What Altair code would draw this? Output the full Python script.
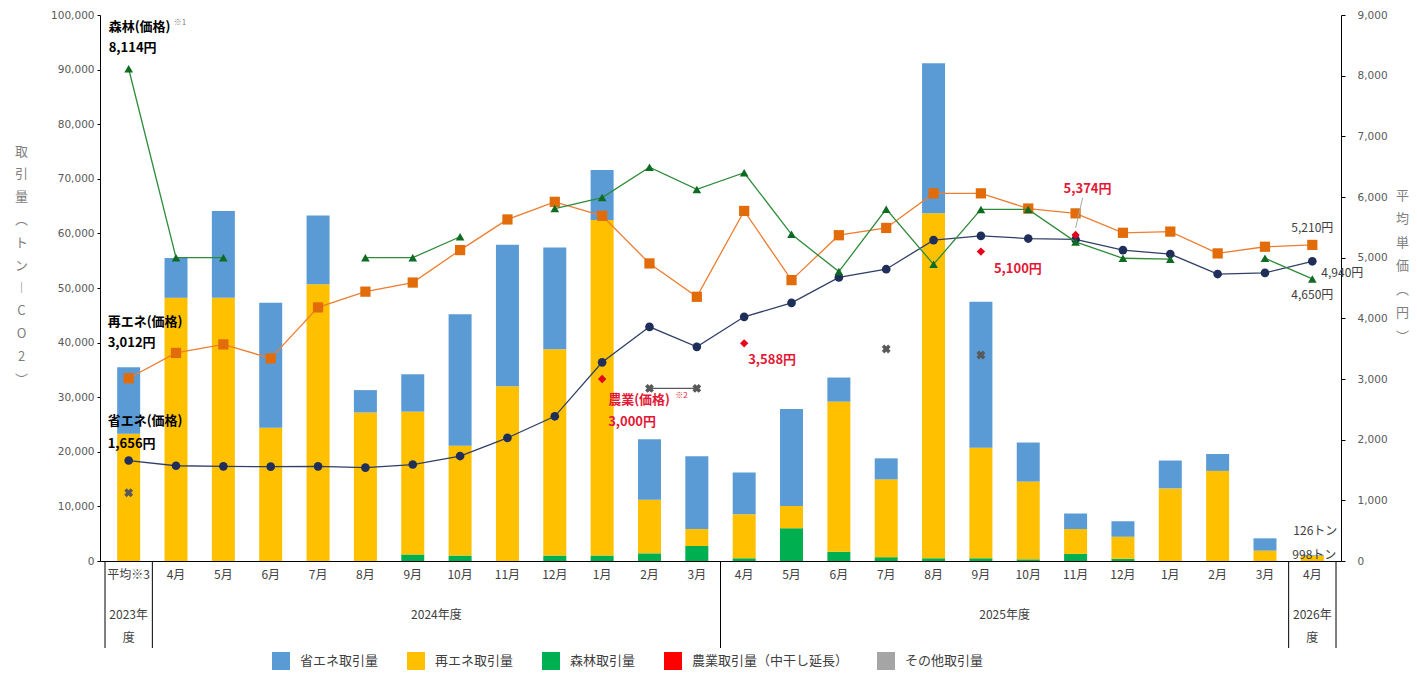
import altair as alt
import pandas as pd

# ---------------- data ----------------
months = ["平均※3", "4月", "5月", "6月", "7月", "8月", "9月", "10月", "11月", "12月", "1月", "2月", "3月",
          "4月", "5月", "6月", "7月", "8月", "9月", "10月", "11月", "12月", "1月", "2月", "3月", "4月"]
fy_line1 = ["2023年", "2024年度", "2025年度", "2026年"]
fy_line2 = ["度", "", "", "度"]
fy_first = [0, 1, 13, 25]
fy_last = [0, 12, 24, 25]

# volumes (t-CO2)
shoene_vol = [12200, 7300, 15900, 22900, 12600, 4100, 6850, 24100, 25900, 18600, 9150, 11100, 13350,
              7650, 17780, 4400, 3850, 27450, 26750, 7150, 2850, 2850, 5100, 3100, 2250, 126]
saiene_vol = [23300, 48200, 48200, 24400, 50700, 27200, 26150, 20100, 32000, 37800, 61450, 9800, 3100,
              8050, 4070, 27500, 14250, 63200, 20250, 14250, 4550, 4050, 13300, 16500, 1900, 998]
shinrin_vol = [0, 0, 0, 0, 0, 0, 1200, 1000, 0, 1000, 1000, 1400, 2750,
               500, 6000, 1700, 700, 500, 500, 300, 1300, 400, 0, 0, 0, 0]

# average prices (yen)
shoene_price = [1656, 1570, 1560, 1555, 1560, 1540, 1590, 1730, 2030, 2385, 3275, 3860, 3530,
                4025, 4255, 4675, 4810, 5290, 5360, 5315, 5300, 5125, 5060, 4730, 4750, 4940]
saiene_price = [3012, 3430, 3570, 3340, 4180, 4440, 4590, 5125, 5630, 5920, 5690, 4905, 4355,
                5770, 4630, 5370, 5490, 6060, 6060, 5810, 5730, 5410, 5430, 5070, 5180, 5210]
shinrin_price = [8114, 5000, 5000, None, None, 5000, 5000, 5345, None, 5810, 5990, 6490, 6125,
                 6400, 5385, 4770, 5800, 4890, 5795, 5795, 5260, 4990, 4975, None, 4990, 4650]
nogyo_price = [None, None, None, None, None, None, None, None, None, None, 3000, None, None,
               3588, None, None, None, None, 5100, None, 5374, None, None, None, None, None]
other_price = [1125, None, None, None, None, None, None, None, None, None, None, 2845, 2845,
               None, None, None, 3495, None, 3395, None, None, None, None, None, None, None]

legend_names = ["省エネ取引量", "再エネ取引量", "森林取引量", "農業取引量（中干し延長）", "その他取引量"]
legend_colors = ["#5B9BD5", "#FFC000", "#00B050", "#FF0000", "#A5A5A5"]

# ---------------- tables ----------------
n = len(months)
idx = list(range(n))
vol_rows = []
for name, vals, order in [("森林取引量", shinrin_vol, 0), ("再エネ取引量", saiene_vol, 1), ("省エネ取引量", shoene_vol, 2)]:
    for i, v in enumerate(vals):
        vol_rows.append({"idx": i, "vol": v, "series": name, "ord": order})
vol_df = pd.DataFrame(vol_rows)


def price_df(vals):
    rows, seg = [], 0
    for i, v in enumerate(vals):
        if v is None:
            seg += 1
            continue
        rows.append({"idx": i, "price": v, "seg": seg})
    return pd.DataFrame(rows)


month_df = pd.DataFrame({"idx": idx, "label": months})
fy_df = pd.DataFrame({"mid": [(a + b) / 2 for a, b in zip(fy_first, fy_last)],
                      "l1": fy_line1, "l2": fy_line2})
sep_df = pd.DataFrame({"pos": [f - 0.5 for f in fy_first] + [fy_last[-1] + 0.5]})

W, H = 1241, 546
JP = "Noto Sans CJK JP"
NUM = "DejaVu Sans"

xscale = alt.Scale(domain=[-0.5, n - 0.5], nice=False, zero=False)
xaxis = alt.Axis(labels=False, ticks=False, grid=False, title=None, domainColor="#000000", domainWidth=1)


def X(field="idx"):
    return alt.X(f"{field}:Q", scale=xscale, axis=xaxis)


# ---------------- volume layer (left axis) ----------------
left_axis = alt.Axis(values=list(range(0, 100001, 10000)), format=",.0f", grid=False,
                     labelFont=NUM, labelFontSize=10.5, labelColor="#595959", tickSize=3,
                     tickColor="#000000", domainColor="#000000", labelPadding=3,
                     title=["取", "引", "量", "︵", "ト", "ン", "︱", "C", "O", "2", "︶"],
                     titleAngle=0, titleX=-79, titleY=130, titleBaseline="top", titleAlign="center",
                     titleLineHeight=22.8, titleFont=JP, titleFontSize=13, titleFontWeight="normal",
                     titleColor="#7F7F7F")
yvol = alt.Scale(domain=[0, 100000], nice=False, zero=True)

bars = alt.Chart(vol_df).mark_bar(size=23).encode(
    x=X(),
    y=alt.Y("vol:Q", stack="zero", scale=yvol, axis=left_axis),
    color=alt.Color("series:N", scale=alt.Scale(domain=legend_names, range=legend_colors),
                    legend=alt.Legend(title=None, orient="none", legendX=172, legendY=637,
                                      direction="horizontal", symbolType="square", symbolSize=324,
                                      symbolStrokeWidth=0, labelFont=JP, labelFontSize=13,
                                      labelColor="#404040", columnPadding=28, labelOffset=10,
                                      padding=0)),
    order=alt.Order("ord:Q"),
)

vol_ann_df = pd.DataFrame({"idx": [n - 1], "vol": [shoene_vol[-1] + saiene_vol[-1]]})
vol_texts = []
for txt, dx, dy in [(f"{shoene_vol[-1]}トン", 3, -24), (f"{saiene_vol[-1]}トン", 2, 0)]:
    vol_texts.append(alt.Chart(vol_ann_df).mark_text(text=txt, dx=dx, dy=dy, font=JP, fontSize=12,
                                                     color="#404040", align="center", baseline="middle")
                     .encode(x=X(), y=alt.Y("vol:Q", scale=yvol, axis=left_axis)))

vol_layer = alt.layer(bars, *vol_texts)

# ---------------- price layer (right axis) ----------------
right_axis = alt.Axis(orient="right", values=list(range(0, 9001, 1000)), format=",.0f", grid=False,
                      labelFont=NUM, labelFontSize=10.5, labelColor="#595959", tickSize=4,
                      tickColor="#000000", domainColor="#000000", labelPadding=12,
                      title=["平", "均", "単", "価", "︵", "円", "︶"],
                      titleAngle=0, titleX=61, titleY=174, titleBaseline="top", titleAlign="center",
                      titleLineHeight=23.5, titleFont=JP, titleFontSize=13, titleFontWeight="normal",
                      titleColor="#7F7F7F")
yprice = alt.Scale(domain=[0, 9000], nice=False, zero=True)


def Yp():
    return alt.Y("price:Q", scale=yprice, axis=right_axis)


price_layers = []
series_specs = [
    (shoene_price, "#2F3F66", "#1F2F5A", "circle", 75, True),
    (saiene_price, "#ED7D31", "#E36C0A", "square", 105, True),
    (shinrin_price, "#2E8B3A", "#0E6B22", "triangle-up", 75, True),
    (nogyo_price, "#FF0000", "#E8001C", "diamond", 70, False),
    (other_price, "#595959", "#595959", "cross", 80, True),
]
for vals, lcol, pcol, shape, size, draw_line in series_specs:
    df = price_df(vals)
    if draw_line:
        price_layers.append(alt.Chart(df).mark_line(color=lcol, strokeWidth=1.3).encode(
            x=X(), y=Yp(), detail="seg:N"))
    angle = 45 if shape == "cross" else 0
    price_layers.append(alt.Chart(df).mark_point(shape=shape, filled=True, size=size, color=pcol,
                                                 opacity=1, angle=angle).encode(x=X(), y=Yp()))

RED = "#E31937"
anns = [
    ("森林(価格)", 0, shinrin_price[0], -20, -42, "#000000", "bold", 13, "left"),
    ("※1", 0, shinrin_price[0], 45, -46, "#7F7F7F", "normal", 8, "left"),
    (f"{shinrin_price[0]:,}円", 0, shinrin_price[0], -20, -21, "#000000", "bold", 13, "left"),
    ("再エネ(価格)", 0, saiene_price[0], -21, -56, "#000000", "bold", 13, "left"),
    (f"{saiene_price[0]:,}円", 0, saiene_price[0], -21, -35, "#000000", "bold", 13, "left"),
    ("省エネ(価格)", 0, shoene_price[0], -21, -40, "#000000", "bold", 13, "left"),
    (f"{shoene_price[0]:,}円", 0, shoene_price[0], -21, -17, "#000000", "bold", 13, "left"),
    ("農業(価格)", 10, nogyo_price[10], 6, 21, RED, "bold", 13, "left"),
    ("※2", 10, nogyo_price[10], 73, 17, RED, "normal", 8, "left"),
    (f"{nogyo_price[10]:,}円", 10, nogyo_price[10], 6, 43, RED, "bold", 13, "left"),
    (f"{nogyo_price[13]:,}円", 13, nogyo_price[13], 4, 17, RED, "bold", 13, "left"),
    (f"{nogyo_price[18]:,}円", 18, nogyo_price[18], 13, 17, RED, "bold", 13, "left"),
    (f"{nogyo_price[20]:,}円", 20, nogyo_price[20], -12, -46, RED, "bold", 13, "left"),
    (f"{saiene_price[-1]:,}円", n - 1, saiene_price[-1], 0, -17, "#404040", "normal", 12, "center"),
    (f"{shoene_price[-1]:,}円", n - 1, shoene_price[-1], 9, 12, "#404040", "normal", 12, "left"),
    (f"{shinrin_price[-1]:,}円", n - 1, shinrin_price[-1], 0, 16, "#404040", "normal", 12, "center"),
]
for txt, i, v, dx, dy, col, wt, fs, al in anns:
    d = pd.DataFrame({"idx": [i], "price": [v]})
    price_layers.append(alt.Chart(d).mark_text(text=txt, dx=dx, dy=dy, color=col, fontWeight=wt,
                                               fontSize=fs, font=JP, align=al, baseline="middle")
                        .encode(x=X(), y=Yp()))

# leader line for the 5,374 label
lead = pd.DataFrame({"idx": [20], "price": [nogyo_price[20]]})
price_layers.append(alt.Chart(lead).mark_rule(color="#A6A6A6", strokeWidth=1, yOffset=-7,
                                              x2Offset=7, y2Offset=-37).encode(
    x=X(), x2="idx:Q", y=Yp(), y2="price:Q"))

price_layer = alt.layer(*price_layers)

# ---------------- category axis (manual two-level) ----------------
month_text = alt.Chart(month_df).mark_text(font=JP, fontSize=12, color="#404040", baseline="middle",
                                           align="center").encode(
    x=X(), y=alt.value(560), text="label:N")
fy_text1 = alt.Chart(fy_df).mark_text(font=JP, fontSize=12, color="#404040", baseline="middle",
                                      align="center").encode(x=X("mid"), y=alt.value(600), text="l1:N")
fy_text2 = alt.Chart(fy_df).mark_text(font=JP, fontSize=12, color="#404040", baseline="middle",
                                      align="center").encode(x=X("mid"), y=alt.value(623), text="l2:N")
seps = alt.Chart(sep_df).mark_rule(color="#000000", strokeWidth=1).encode(
    x=X("pos"), y=alt.value(H), y2=alt.value(633))

chart = alt.layer(vol_layer, price_layer, month_text, fy_text1, fy_text2, seps).resolve_scale(
    y="independent", color="independent"
).properties(
    width=W, height=H,
    autosize=alt.AutoSizeParams(type="none"),
    padding={"left": 92, "top": 7, "right": 68, "bottom": 109},
    background="#FFFFFF",
).configure_view(stroke=None)

chart.save("out.html", embed_options={"renderer": "svg", "actions": False})
